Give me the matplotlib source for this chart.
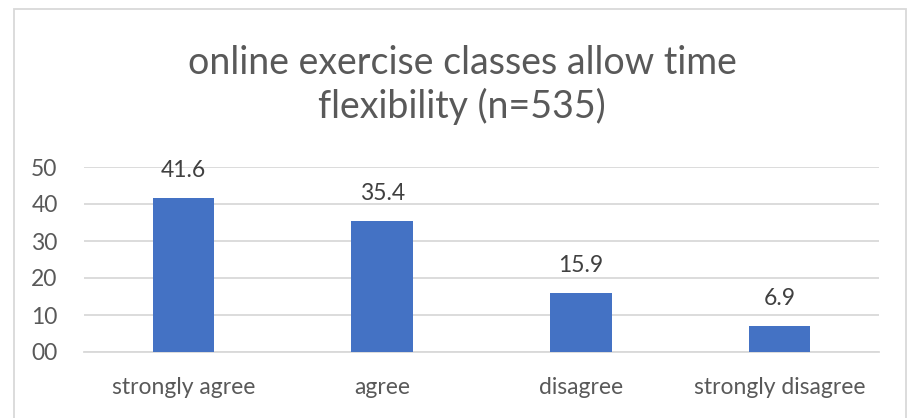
import matplotlib.pyplot as plt
from matplotlib.patches import Rectangle

categories = ["strongly agree", "agree", "disagree", "strongly disagree"]
values = [41.6, 35.4, 15.9, 6.9]
yticks = [0, 10, 20, 30, 40, 50]
ytick_labels = ["00", "10", "20", "30", "40", "50"]

plt.rcParams["font.family"] = ["Lato", "DejaVu Sans"]
text_color = "#595959"
grid_color = "#D9D9D9"

fig = plt.figure(figsize=(9.07, 4.18), dpi=100)
ax = fig.add_axes([84 / 907, 1 - 352 / 418, (879 - 84) / 907, (352 - 167) / 418])

x = list(range(len(categories)))
bars = ax.bar(x, values, width=0.31, color="#4472C4", zorder=3)
for b, v in zip(bars, values):
    ax.annotate(f"{v:.1f}", (b.get_x() + b.get_width() / 2, v),
                xytext=(0, 20), textcoords="offset points",
                ha="center", va="center", fontsize=16.5, color="#404040")

ax.set_xlim(-0.5, len(categories) - 0.5)
ax.set_ylim(0, 50)
ax.set_yticks(yticks)
ax.set_yticklabels(ytick_labels)
ax.set_xticks(x)
ax.set_xticklabels(categories)
ax.tick_params(axis="both", length=0, labelsize=16.5, colors=text_color)
ax.tick_params(axis="x", pad=18)
ax.tick_params(axis="y", pad=19)
ax.grid(axis="y", color=grid_color, linewidth=1.3, zorder=0)
for s in ["top", "right", "left"]:
    ax.spines[s].set_visible(False)
ax.spines["bottom"].set_color(grid_color)
ax.spines["bottom"].set_linewidth(1.3)

fig.text(462 / 907, 1 - 85 / 418,
         "online exercise classes allow time\nflexibility (n=535)",
         ha="center", va="center", fontsize=27, color=text_color, linespacing=1.25)

# chart border
fig.patches.append(Rectangle((14 / 907, -0.01), (906 - 14) / 907, 1 - 9 / 418 + 0.01,
                             transform=fig.transFigure, fill=False,
                             edgecolor=grid_color, linewidth=1.3))

fig.savefig("out.png", dpi=100)
